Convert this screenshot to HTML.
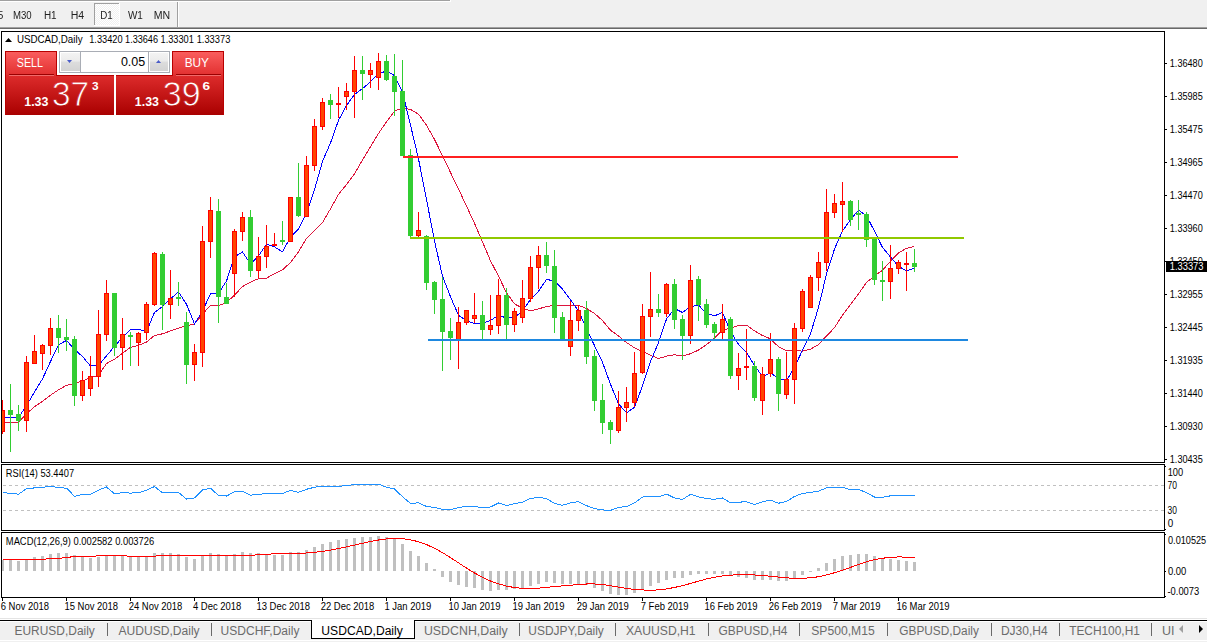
<!DOCTYPE html>
<html><head><meta charset="utf-8"><title>USDCAD,Daily</title>
<style>
html,body{margin:0;padding:0;background:#fff;}
body{width:1207px;height:642px;overflow:hidden;}
svg{display:block;}
</style></head><body>
<svg width="1207" height="642" viewBox="0 0 1207 642"><defs>
<clipPath id="cm"><rect x="2" y="32" width="1162" height="430"/></clipPath>
<clipPath id="cr"><rect x="2" y="465" width="1162" height="65"/></clipPath>
<clipPath id="cd"><rect x="2" y="533" width="1162" height="64"/></clipPath>
<linearGradient id="gh" x1="0" y1="0" x2="0" y2="1"><stop offset="0" stop-color="#fb5f5f"/><stop offset="1" stop-color="#e23030"/></linearGradient>
<linearGradient id="gl" x1="0" y1="0" x2="0" y2="1"><stop offset="0" stop-color="#de2c2c"/><stop offset="1" stop-color="#a90000"/></linearGradient>
<linearGradient id="glu" gradientUnits="userSpaceOnUse" x1="0" y1="75" x2="0" y2="115"><stop offset="0" stop-color="#de2c2c"/><stop offset="1" stop-color="#a90000"/></linearGradient>
<linearGradient id="gb" x1="0" y1="0" x2="0" y2="1"><stop offset="0" stop-color="#f3f3f3"/><stop offset="0.45" stop-color="#ebebeb"/><stop offset="0.5" stop-color="#dddddd"/><stop offset="1" stop-color="#d3d3d3"/></linearGradient>
<pattern id="chk" width="2" height="2" patternUnits="userSpaceOnUse"><rect width="2" height="2" fill="#f0f0f0"/><rect width="1" height="1" fill="#fff"/><rect x="1" y="1" width="1" height="1" fill="#fff"/></pattern>
</defs>
<g shape-rendering="crispEdges"><rect x="0" y="0" width="1207" height="27" fill="#f0f0f0"/><rect x="0" y="0" width="450" height="1" fill="#a0a0a0"/><rect x="450" y="0" width="1" height="2" fill="#fff"/><rect x="0" y="1" width="450" height="1" fill="#fff"/><rect x="0" y="27" width="1207" height="1" fill="#a0a0a0"/><rect x="0" y="28" width="1207" height="1" fill="#696969"/><rect x="94" y="3" width="25" height="22" fill="url(#chk)"/><rect x="94" y="3" width="25" height="1" fill="#a0a0a0"/><rect x="94" y="3" width="1" height="22" fill="#a0a0a0"/><rect x="119" y="3" width="1" height="23" fill="#fff"/><rect x="94" y="25" width="26" height="1" fill="#fff"/><rect x="177" y="2" width="1" height="25" fill="#a0a0a0"/><rect x="178" y="2" width="1" height="25" fill="#fff"/></g>
<g font-family='"Liberation Sans", Arial, sans-serif' style="will-change:transform">
<text x="13.01" y="19" font-size="10.0" fill="#222" textLength="18.66" lengthAdjust="spacingAndGlyphs">M30</text>
<text x="43.89" y="19" font-size="10.0" fill="#222" textLength="12.7" lengthAdjust="spacingAndGlyphs">H1</text>
<text x="70.74" y="19" font-size="10.0" fill="#222" textLength="13.47" lengthAdjust="spacingAndGlyphs">H4</text>
<text x="100.2" y="19" font-size="10.0" fill="#222" textLength="12.48" lengthAdjust="spacingAndGlyphs">D1</text>
<text x="127.96" y="19" font-size="10.0" fill="#222" textLength="14.93" lengthAdjust="spacingAndGlyphs">W1</text>
<text x="153.73" y="19" font-size="10.0" fill="#222" textLength="16.43" lengthAdjust="spacingAndGlyphs">MN</text>
<text x="-2.24" y="19" font-size="10.0" fill="#222">5</text>
</g>
<polyline clip-path="url(#cm)" points="2.5,422.5 10.5,422.5 18.5,422.29 26.5,413.77 34.5,406.63 42.5,401.39 50.5,395.12 58.5,389.83 66.5,385.3 74.5,383.64 82.5,380.87 90.5,377.81 98.5,375.03 106.5,363.59 114.5,359.16 122.5,353.38 130.5,347.39 138.5,345.34 146.5,341.99 154.5,335.44 162.5,333.8 170.5,330.94 178.5,328.03 186.5,325.84 194.5,323.84 202.5,314.2 210.5,305.34 218.5,305.64 226.5,302.48 234.5,295.11 242.5,286.54 250.5,282.08 258.5,278.66 266.5,278.13 274.5,273.76 282.5,269.76 290.5,262.49 298.5,251.84 306.5,238.49 314.5,230.26 322.5,222.55 330.5,208.81 338.5,194.46 346.5,184.49 354.5,173.99 362.5,159.92 370.5,146.65 378.5,133.44 386.5,121.75 394.5,111.01 402.5,108.11 410.5,109.48 418.5,114.1 426.5,125.33 434.5,139.48 442.5,155.72 450.5,172.52 458.5,189 466.5,206.13 474.5,223.35 482.5,241.91 490.5,260.79 498.5,276.13 506.5,292.79 514.5,303.84 522.5,308.31 530.5,310.94 538.5,308.92 546.5,306.49 554.5,305.5 562.5,305.59 570.5,305.44 578.5,305.44 586.5,308.43 594.5,313.51 602.5,320.51 610.5,330.16 618.5,336.03 626.5,342.54 634.5,347.88 642.5,351.41 650.5,355.28 658.5,358.59 666.5,356.14 674.5,354.76 682.5,355.91 690.5,353.76 698.5,350.07 706.5,344.64 714.5,338.17 722.5,330.24 730.5,328.01 738.5,325.58 746.5,325.07 754.5,330.91 762.5,335.55 770.5,338.86 778.5,346.75 786.5,350.93 794.5,350.36 802.5,351.15 810.5,349.13 818.5,344.61 826.5,335.99 834.5,327.68 842.5,315.16 850.5,304.6 858.5,293.81 866.5,282.55 874.5,275.81 882.5,270.3 890.5,261.26 898.5,252.92 906.5,248.24 914.5,246.54" fill="none" stroke="#dc143c" stroke-width="1" shape-rendering="crispEdges"/>
<polyline clip-path="url(#cm)" points="2.5,417.5 10.5,417.5 18.5,417.5 26.5,405.7 34.5,391.9 42.5,378.86 50.5,361.46 58.5,344.86 66.5,340.42 74.5,349.44 82.5,356.48 90.5,366.08 98.5,365.28 106.5,355.92 114.5,346.36 122.5,337.16 130.5,329.38 138.5,329.22 146.5,331.42 154.5,312.42 162.5,306.64 170.5,298.8 178.5,291.94 186.5,304.2 194.5,324 202.5,311.2 210.5,293.62 218.5,293.22 226.5,280.96 234.5,256.74 242.5,251.92 250.5,264.08 258.5,255.88 266.5,244.24 274.5,246.84 282.5,251.84 290.5,237.08 298.5,229.12 306.5,213.02 314.5,189.42 322.5,161.42 330.5,142.92 338.5,120.3 346.5,105.52 354.5,94.36 362.5,88.72 370.5,81.84 378.5,73.38 386.5,71.18 394.5,75.5 402.5,92 410.5,125.04 418.5,158.86 426.5,199.44 434.5,241.12 442.5,276.24 450.5,296.82 458.5,315.24 466.5,320.6 474.5,323.56 482.5,323.18 490.5,320.52 498.5,315.14 506.5,318.16 514.5,317.36 522.5,310.96 530.5,299.3 538.5,291.26 546.5,279.48 554.5,280.9 562.5,289.18 570.5,299.84 578.5,310.86 586.5,328.98 594.5,345.6 602.5,362.32 610.5,384.34 618.5,403.8 626.5,412.86 634.5,407.2 642.5,385.8 650.5,361.6 658.5,342.66 666.5,319 674.5,308.46 682.5,312.46 690.5,306.6 698.5,305.12 706.5,313.4 714.5,315.86 722.5,312.46 730.5,331.7 738.5,344.28 746.5,352.4 754.5,365.46 762.5,376.46 770.5,373.06 778.5,378.28 786.5,380.86 794.5,366.92 802.5,350.28 810.5,333.86 818.5,307.4 826.5,274.02 834.5,248.96 842.5,230.94 850.5,219.6 858.5,210.16 866.5,215.84 874.5,231.22 882.5,247.44 890.5,256.92 898.5,266.38 906.5,270.86 914.5,268.34" fill="none" stroke="#0000ff" stroke-width="1" shape-rendering="crispEdges"/>
<g clip-path="url(#cm)" shape-rendering="crispEdges"><rect x="2" y="400" width="1" height="34" fill="#f00"/><rect x="0" y="410" width="5" height="22" fill="#f00"/><rect x="1" y="411" width="3" height="20" fill="#ff4500"/><rect x="10" y="384" width="1" height="68" fill="#32cd32"/><rect x="8" y="410" width="5" height="5" fill="#32cd32"/><rect x="18" y="405" width="1" height="26" fill="#32cd32"/><rect x="16" y="414" width="5" height="7" fill="#32cd32"/><rect x="26" y="356" width="1" height="76" fill="#f00"/><rect x="24" y="362" width="5" height="59" fill="#f00"/><rect x="25" y="363" width="3" height="57" fill="#ff4500"/><rect x="34" y="335" width="1" height="29" fill="#f00"/><rect x="32" y="351" width="5" height="13" fill="#f00"/><rect x="33" y="352" width="3" height="11" fill="#ff4500"/><rect x="42" y="344" width="1" height="26" fill="#f00"/><rect x="40" y="345" width="5" height="9" fill="#f00"/><rect x="41" y="346" width="3" height="7" fill="#ff4500"/><rect x="50" y="318" width="1" height="37" fill="#f00"/><rect x="48" y="328" width="5" height="18" fill="#f00"/><rect x="49" y="329" width="3" height="16" fill="#ff4500"/><rect x="58" y="315" width="1" height="38" fill="#32cd32"/><rect x="56" y="328" width="5" height="10" fill="#32cd32"/><rect x="66" y="319" width="1" height="32" fill="#32cd32"/><rect x="64" y="337" width="5" height="3" fill="#32cd32"/><rect x="74" y="336" width="1" height="70" fill="#32cd32"/><rect x="72" y="339" width="5" height="57" fill="#32cd32"/><rect x="82" y="371" width="1" height="30" fill="#f00"/><rect x="80" y="380" width="5" height="16" fill="#f00"/><rect x="81" y="381" width="3" height="14" fill="#ff4500"/><rect x="90" y="356" width="1" height="40" fill="#f00"/><rect x="88" y="376" width="5" height="13" fill="#f00"/><rect x="89" y="377" width="3" height="11" fill="#ff4500"/><rect x="98" y="310" width="1" height="77" fill="#f00"/><rect x="96" y="334" width="5" height="43" fill="#f00"/><rect x="97" y="335" width="3" height="41" fill="#ff4500"/><rect x="106" y="280" width="1" height="61" fill="#f00"/><rect x="104" y="293" width="5" height="42" fill="#f00"/><rect x="105" y="294" width="3" height="40" fill="#ff4500"/><rect x="114" y="293" width="1" height="63" fill="#32cd32"/><rect x="112" y="293" width="5" height="55" fill="#32cd32"/><rect x="122" y="318" width="1" height="52" fill="#f00"/><rect x="120" y="334" width="5" height="14" fill="#f00"/><rect x="121" y="335" width="3" height="12" fill="#ff4500"/><rect x="130" y="332" width="1" height="34" fill="#32cd32"/><rect x="128" y="335" width="5" height="2" fill="#32cd32"/><rect x="138" y="332" width="1" height="34" fill="#f00"/><rect x="136" y="333" width="5" height="10" fill="#f00"/><rect x="137" y="334" width="3" height="8" fill="#ff4500"/><rect x="146" y="302" width="1" height="38" fill="#f00"/><rect x="144" y="304" width="5" height="29" fill="#f00"/><rect x="145" y="305" width="3" height="27" fill="#ff4500"/><rect x="154" y="252" width="1" height="54" fill="#f00"/><rect x="152" y="253" width="5" height="52" fill="#f00"/><rect x="153" y="254" width="3" height="50" fill="#ff4500"/><rect x="162" y="252" width="1" height="78" fill="#32cd32"/><rect x="160" y="254" width="5" height="51" fill="#32cd32"/><rect x="170" y="270" width="1" height="49" fill="#f00"/><rect x="168" y="298" width="5" height="7" fill="#f00"/><rect x="169" y="299" width="3" height="5" fill="#ff4500"/><rect x="178" y="282" width="1" height="24" fill="#32cd32"/><rect x="176" y="297" width="5" height="2" fill="#32cd32"/><rect x="186" y="312" width="1" height="72" fill="#32cd32"/><rect x="184" y="322" width="5" height="43" fill="#32cd32"/><rect x="194" y="344" width="1" height="37" fill="#f00"/><rect x="192" y="352" width="5" height="13" fill="#f00"/><rect x="193" y="353" width="3" height="11" fill="#ff4500"/><rect x="202" y="226" width="1" height="141" fill="#f00"/><rect x="200" y="241" width="5" height="112" fill="#f00"/><rect x="201" y="242" width="3" height="110" fill="#ff4500"/><rect x="210" y="197" width="1" height="61" fill="#f00"/><rect x="208" y="210" width="5" height="32" fill="#f00"/><rect x="209" y="211" width="3" height="30" fill="#ff4500"/><rect x="218" y="199" width="1" height="124" fill="#32cd32"/><rect x="216" y="211" width="5" height="86" fill="#32cd32"/><rect x="226" y="283" width="1" height="21" fill="#32cd32"/><rect x="224" y="297" width="5" height="7" fill="#32cd32"/><rect x="234" y="229" width="1" height="68" fill="#f00"/><rect x="232" y="231" width="5" height="43" fill="#f00"/><rect x="233" y="232" width="3" height="41" fill="#ff4500"/><rect x="242" y="212" width="1" height="29" fill="#f00"/><rect x="240" y="217" width="5" height="15" fill="#f00"/><rect x="241" y="218" width="3" height="13" fill="#ff4500"/><rect x="250" y="210" width="1" height="67" fill="#32cd32"/><rect x="248" y="217" width="5" height="54" fill="#32cd32"/><rect x="258" y="237" width="1" height="41" fill="#f00"/><rect x="256" y="256" width="5" height="15" fill="#f00"/><rect x="257" y="257" width="3" height="13" fill="#ff4500"/><rect x="266" y="225" width="1" height="43" fill="#f00"/><rect x="264" y="246" width="5" height="11" fill="#f00"/><rect x="265" y="247" width="3" height="9" fill="#ff4500"/><rect x="274" y="233" width="1" height="13" fill="#f00"/><rect x="272" y="244" width="5" height="2" fill="#f00"/><rect x="282" y="221" width="1" height="24" fill="#32cd32"/><rect x="280" y="240" width="5" height="2" fill="#32cd32"/><rect x="290" y="197" width="1" height="45" fill="#f00"/><rect x="288" y="197" width="5" height="45" fill="#f00"/><rect x="289" y="198" width="3" height="43" fill="#ff4500"/><rect x="298" y="163" width="1" height="54" fill="#32cd32"/><rect x="296" y="197" width="5" height="19" fill="#32cd32"/><rect x="306" y="156" width="1" height="61" fill="#f00"/><rect x="304" y="165" width="5" height="52" fill="#f00"/><rect x="305" y="166" width="3" height="50" fill="#ff4500"/><rect x="314" y="119" width="1" height="52" fill="#f00"/><rect x="312" y="126" width="5" height="40" fill="#f00"/><rect x="313" y="127" width="3" height="38" fill="#ff4500"/><rect x="322" y="98" width="1" height="32" fill="#f00"/><rect x="320" y="102" width="5" height="25" fill="#f00"/><rect x="321" y="103" width="3" height="23" fill="#ff4500"/><rect x="330" y="94" width="1" height="25" fill="#32cd32"/><rect x="328" y="100" width="5" height="5" fill="#32cd32"/><rect x="338" y="87" width="1" height="31" fill="#f00"/><rect x="336" y="103" width="5" height="2" fill="#f00"/><rect x="346" y="83" width="1" height="27" fill="#f00"/><rect x="344" y="91" width="5" height="6" fill="#f00"/><rect x="345" y="92" width="3" height="4" fill="#ff4500"/><rect x="354" y="56" width="1" height="62" fill="#f00"/><rect x="352" y="70" width="5" height="22" fill="#f00"/><rect x="353" y="71" width="3" height="20" fill="#ff4500"/><rect x="362" y="56" width="1" height="44" fill="#32cd32"/><rect x="360" y="70" width="5" height="4" fill="#32cd32"/><rect x="370" y="63" width="1" height="25" fill="#f00"/><rect x="368" y="70" width="5" height="5" fill="#f00"/><rect x="369" y="71" width="3" height="3" fill="#ff4500"/><rect x="378" y="53" width="1" height="37" fill="#f00"/><rect x="376" y="61" width="5" height="17" fill="#f00"/><rect x="377" y="62" width="3" height="15" fill="#ff4500"/><rect x="386" y="55" width="1" height="26" fill="#32cd32"/><rect x="384" y="61" width="5" height="19" fill="#32cd32"/><rect x="394" y="54" width="1" height="62" fill="#32cd32"/><rect x="392" y="76" width="5" height="16" fill="#32cd32"/><rect x="402" y="60" width="1" height="96" fill="#32cd32"/><rect x="400" y="91" width="5" height="65" fill="#32cd32"/><rect x="410" y="149" width="1" height="89" fill="#32cd32"/><rect x="408" y="155" width="5" height="81" fill="#32cd32"/><rect x="418" y="212" width="1" height="26" fill="#f00"/><rect x="416" y="230" width="5" height="6" fill="#f00"/><rect x="417" y="231" width="3" height="4" fill="#ff4500"/><rect x="426" y="235" width="1" height="55" fill="#32cd32"/><rect x="424" y="236" width="5" height="47" fill="#32cd32"/><rect x="434" y="281" width="1" height="33" fill="#32cd32"/><rect x="432" y="282" width="5" height="18" fill="#32cd32"/><rect x="442" y="277" width="1" height="94" fill="#32cd32"/><rect x="440" y="299" width="5" height="33" fill="#32cd32"/><rect x="450" y="318" width="1" height="42" fill="#32cd32"/><rect x="448" y="331" width="5" height="7" fill="#32cd32"/><rect x="458" y="307" width="1" height="62" fill="#f00"/><rect x="456" y="322" width="5" height="18" fill="#f00"/><rect x="457" y="323" width="3" height="16" fill="#ff4500"/><rect x="466" y="310" width="1" height="15" fill="#f00"/><rect x="464" y="310" width="5" height="13" fill="#f00"/><rect x="465" y="311" width="3" height="11" fill="#ff4500"/><rect x="474" y="293" width="1" height="30" fill="#f00"/><rect x="472" y="315" width="5" height="4" fill="#f00"/><rect x="473" y="316" width="3" height="2" fill="#ff4500"/><rect x="482" y="301" width="1" height="39" fill="#32cd32"/><rect x="480" y="315" width="5" height="15" fill="#32cd32"/><rect x="490" y="295" width="1" height="40" fill="#f00"/><rect x="488" y="325" width="5" height="5" fill="#f00"/><rect x="489" y="326" width="3" height="3" fill="#ff4500"/><rect x="498" y="279" width="1" height="55" fill="#f00"/><rect x="496" y="295" width="5" height="31" fill="#f00"/><rect x="497" y="296" width="3" height="29" fill="#ff4500"/><rect x="506" y="288" width="1" height="52" fill="#32cd32"/><rect x="504" y="295" width="5" height="30" fill="#32cd32"/><rect x="514" y="308" width="1" height="24" fill="#f00"/><rect x="512" y="311" width="5" height="14" fill="#f00"/><rect x="513" y="312" width="3" height="12" fill="#ff4500"/><rect x="522" y="280" width="1" height="43" fill="#f00"/><rect x="520" y="298" width="5" height="20" fill="#f00"/><rect x="521" y="299" width="3" height="18" fill="#ff4500"/><rect x="530" y="256" width="1" height="46" fill="#f00"/><rect x="528" y="267" width="5" height="32" fill="#f00"/><rect x="529" y="268" width="3" height="30" fill="#ff4500"/><rect x="538" y="246" width="1" height="43" fill="#f00"/><rect x="536" y="255" width="5" height="13" fill="#f00"/><rect x="537" y="256" width="3" height="11" fill="#ff4500"/><rect x="546" y="242" width="1" height="31" fill="#32cd32"/><rect x="544" y="255" width="5" height="11" fill="#32cd32"/><rect x="554" y="250" width="1" height="83" fill="#32cd32"/><rect x="552" y="266" width="5" height="52" fill="#32cd32"/><rect x="562" y="312" width="1" height="28" fill="#32cd32"/><rect x="560" y="317" width="5" height="23" fill="#32cd32"/><rect x="570" y="301" width="1" height="55" fill="#f00"/><rect x="568" y="320" width="5" height="27" fill="#f00"/><rect x="569" y="321" width="3" height="25" fill="#ff4500"/><rect x="578" y="305" width="1" height="26" fill="#f00"/><rect x="576" y="310" width="5" height="11" fill="#f00"/><rect x="577" y="311" width="3" height="9" fill="#ff4500"/><rect x="586" y="301" width="1" height="63" fill="#32cd32"/><rect x="584" y="310" width="5" height="47" fill="#32cd32"/><rect x="594" y="350" width="1" height="61" fill="#32cd32"/><rect x="592" y="356" width="5" height="45" fill="#32cd32"/><rect x="602" y="384" width="1" height="50" fill="#32cd32"/><rect x="600" y="400" width="5" height="23" fill="#32cd32"/><rect x="610" y="420" width="1" height="24" fill="#32cd32"/><rect x="608" y="422" width="5" height="8" fill="#32cd32"/><rect x="618" y="391" width="1" height="42" fill="#f00"/><rect x="616" y="407" width="5" height="24" fill="#f00"/><rect x="617" y="408" width="3" height="22" fill="#ff4500"/><rect x="626" y="387" width="1" height="35" fill="#f00"/><rect x="624" y="402" width="5" height="6" fill="#f00"/><rect x="625" y="403" width="3" height="4" fill="#ff4500"/><rect x="634" y="352" width="1" height="55" fill="#f00"/><rect x="632" y="373" width="5" height="30" fill="#f00"/><rect x="633" y="374" width="3" height="28" fill="#ff4500"/><rect x="642" y="304" width="1" height="70" fill="#f00"/><rect x="640" y="316" width="5" height="57" fill="#f00"/><rect x="641" y="317" width="3" height="55" fill="#ff4500"/><rect x="650" y="272" width="1" height="65" fill="#f00"/><rect x="648" y="309" width="5" height="8" fill="#f00"/><rect x="649" y="310" width="3" height="6" fill="#ff4500"/><rect x="658" y="294" width="1" height="23" fill="#32cd32"/><rect x="656" y="309" width="5" height="4" fill="#32cd32"/><rect x="666" y="283" width="1" height="34" fill="#f00"/><rect x="664" y="284" width="5" height="30" fill="#f00"/><rect x="665" y="285" width="3" height="28" fill="#ff4500"/><rect x="674" y="279" width="1" height="50" fill="#32cd32"/><rect x="672" y="284" width="5" height="36" fill="#32cd32"/><rect x="682" y="315" width="1" height="45" fill="#32cd32"/><rect x="680" y="319" width="5" height="17" fill="#32cd32"/><rect x="690" y="265" width="1" height="79" fill="#f00"/><rect x="688" y="280" width="5" height="56" fill="#f00"/><rect x="689" y="281" width="3" height="54" fill="#ff4500"/><rect x="698" y="276" width="1" height="45" fill="#32cd32"/><rect x="696" y="279" width="5" height="26" fill="#32cd32"/><rect x="706" y="299" width="1" height="29" fill="#32cd32"/><rect x="704" y="304" width="5" height="21" fill="#32cd32"/><rect x="714" y="322" width="1" height="17" fill="#32cd32"/><rect x="712" y="324" width="5" height="9" fill="#32cd32"/><rect x="722" y="304" width="1" height="35" fill="#f00"/><rect x="720" y="319" width="5" height="14" fill="#f00"/><rect x="721" y="320" width="3" height="12" fill="#ff4500"/><rect x="730" y="317" width="1" height="62" fill="#32cd32"/><rect x="728" y="319" width="5" height="57" fill="#32cd32"/><rect x="738" y="353" width="1" height="37" fill="#f00"/><rect x="736" y="368" width="5" height="8" fill="#f00"/><rect x="737" y="369" width="3" height="6" fill="#ff4500"/><rect x="746" y="329" width="1" height="51" fill="#f00"/><rect x="744" y="366" width="5" height="2" fill="#f00"/><rect x="754" y="361" width="1" height="40" fill="#32cd32"/><rect x="752" y="366" width="5" height="32" fill="#32cd32"/><rect x="762" y="367" width="1" height="48" fill="#f00"/><rect x="760" y="374" width="5" height="27" fill="#f00"/><rect x="761" y="375" width="3" height="25" fill="#ff4500"/><rect x="770" y="333" width="1" height="44" fill="#f00"/><rect x="768" y="359" width="5" height="15" fill="#f00"/><rect x="769" y="360" width="3" height="13" fill="#ff4500"/><rect x="778" y="357" width="1" height="54" fill="#32cd32"/><rect x="776" y="359" width="5" height="35" fill="#32cd32"/><rect x="786" y="352" width="1" height="47" fill="#f00"/><rect x="784" y="379" width="5" height="16" fill="#f00"/><rect x="785" y="380" width="3" height="14" fill="#ff4500"/><rect x="794" y="323" width="1" height="81" fill="#f00"/><rect x="792" y="328" width="5" height="52" fill="#f00"/><rect x="793" y="329" width="3" height="50" fill="#ff4500"/><rect x="802" y="289" width="1" height="43" fill="#f00"/><rect x="800" y="291" width="5" height="38" fill="#f00"/><rect x="801" y="292" width="3" height="36" fill="#ff4500"/><rect x="810" y="275" width="1" height="33" fill="#f00"/><rect x="808" y="277" width="5" height="31" fill="#f00"/><rect x="809" y="278" width="3" height="29" fill="#ff4500"/><rect x="818" y="252" width="1" height="39" fill="#f00"/><rect x="816" y="262" width="5" height="16" fill="#f00"/><rect x="817" y="263" width="3" height="14" fill="#ff4500"/><rect x="826" y="189" width="1" height="82" fill="#f00"/><rect x="824" y="212" width="5" height="51" fill="#f00"/><rect x="825" y="213" width="3" height="49" fill="#ff4500"/><rect x="834" y="194" width="1" height="24" fill="#f00"/><rect x="832" y="203" width="5" height="10" fill="#f00"/><rect x="833" y="204" width="3" height="8" fill="#ff4500"/><rect x="842" y="182" width="1" height="50" fill="#f00"/><rect x="840" y="201" width="5" height="4" fill="#f00"/><rect x="841" y="202" width="3" height="2" fill="#ff4500"/><rect x="850" y="200" width="1" height="26" fill="#32cd32"/><rect x="848" y="201" width="5" height="19" fill="#32cd32"/><rect x="858" y="200" width="1" height="30" fill="#32cd32"/><rect x="856" y="213" width="5" height="2" fill="#32cd32"/><rect x="866" y="212" width="1" height="35" fill="#32cd32"/><rect x="864" y="214" width="5" height="26" fill="#32cd32"/><rect x="874" y="238" width="1" height="47" fill="#32cd32"/><rect x="872" y="239" width="5" height="41" fill="#32cd32"/><rect x="882" y="261" width="1" height="40" fill="#32cd32"/><rect x="880" y="280" width="5" height="2" fill="#32cd32"/><rect x="890" y="245" width="1" height="54" fill="#f00"/><rect x="888" y="268" width="5" height="14" fill="#f00"/><rect x="889" y="269" width="3" height="12" fill="#ff4500"/><rect x="898" y="260" width="1" height="14" fill="#f00"/><rect x="896" y="262" width="5" height="7" fill="#f00"/><rect x="897" y="263" width="3" height="5" fill="#ff4500"/><rect x="906" y="252" width="1" height="39" fill="#f00"/><rect x="904" y="263" width="5" height="2" fill="#f00"/><rect x="914" y="249" width="1" height="23" fill="#32cd32"/><rect x="912" y="263" width="5" height="4" fill="#32cd32"/></g>
<g shape-rendering="crispEdges"><rect x="403" y="156" width="555" height="2" fill="#ff2020"/><rect x="410" y="237" width="554" height="2" fill="#90c800"/><rect x="428" y="339" width="540" height="2" fill="#1e88e0"/></g>
<g fill="none" stroke="#000" stroke-width="1" shape-rendering="crispEdges"><rect x="1.5" y="31.5" width="1163" height="431"/><rect x="1.5" y="464.5" width="1163" height="66"/><rect x="1.5" y="532.5" width="1163" height="65"/></g>
<g stroke="#c0c0c0" stroke-width="1" stroke-dasharray="3,3" shape-rendering="crispEdges"><line x1="3" y1="485.5" x2="1164" y2="485.5"/><line x1="3" y1="510.5" x2="1164" y2="510.5"/></g>
<polyline clip-path="url(#cr)" points="2.5,492.66 10.5,493.34 18.5,494.17 26.5,488.74 34.5,487.9 42.5,487.44 50.5,486.16 58.5,487.8 66.5,488.08 74.5,496.24 82.5,494.57 90.5,494.15 98.5,490.13 106.5,486.99 114.5,493.85 122.5,492.7 130.5,493.06 138.5,492.71 146.5,490.16 154.5,486.55 162.5,492.77 170.5,492.22 178.5,492.33 186.5,499.13 194.5,497.9 202.5,489.93 210.5,488.27 218.5,495.54 226.5,496.05 234.5,491.79 242.5,491.06 250.5,495.18 258.5,494.29 266.5,493.67 274.5,493.56 282.5,493.43 290.5,490.52 298.5,492.36 306.5,489.28 314.5,487.24 322.5,486.09 330.5,486.36 338.5,486.28 346.5,485.63 354.5,484.5 362.5,485 370.5,484.79 378.5,484.22 386.5,487.18 394.5,488.87 402.5,496.76 410.5,503.41 418.5,502.86 426.5,506.45 434.5,507.47 442.5,509.27 450.5,509.62 458.5,507.64 466.5,506.2 474.5,506.56 482.5,507.66 490.5,506.95 498.5,503.01 506.5,505.52 514.5,503.73 522.5,502.12 530.5,498.49 538.5,497.23 546.5,498.49 554.5,503.52 562.5,505.26 570.5,502.86 578.5,501.66 586.5,505.62 594.5,508.64 602.5,509.95 610.5,510.36 618.5,507.31 626.5,506.63 634.5,502.94 642.5,497.06 650.5,496.42 658.5,496.79 666.5,494.07 674.5,497.93 682.5,499.47 690.5,494.31 698.5,496.79 706.5,498.64 714.5,499.31 722.5,497.96 730.5,502.95 738.5,502.1 746.5,501.85 754.5,504.53 762.5,501.79 770.5,500.14 778.5,503.23 786.5,501.48 794.5,496.47 802.5,493.42 810.5,492.36 818.5,491.23 826.5,487.88 834.5,487.34 842.5,487.21 850.5,489.74 858.5,489.33 866.5,492.63 874.5,497.06 882.5,497.29 890.5,495.83 898.5,495.25 906.5,495.33 914.5,495.94" fill="none" stroke="#1e90ff" stroke-width="1" shape-rendering="crispEdges"/>
<g clip-path="url(#cd)" fill="#c0c0c0" shape-rendering="crispEdges"><rect x="1" y="560" width="3" height="11"/><rect x="9" y="560" width="3" height="11"/><rect x="17" y="561" width="3" height="10"/><rect x="25" y="560" width="3" height="11"/><rect x="33" y="557" width="3" height="14"/><rect x="41" y="556" width="3" height="15"/><rect x="49" y="554" width="3" height="17"/><rect x="57" y="553" width="3" height="18"/><rect x="65" y="553" width="3" height="18"/><rect x="73" y="555" width="3" height="16"/><rect x="81" y="557" width="3" height="14"/><rect x="89" y="558" width="3" height="13"/><rect x="97" y="557" width="3" height="14"/><rect x="105" y="556" width="3" height="15"/><rect x="113" y="556" width="3" height="15"/><rect x="121" y="556" width="3" height="15"/><rect x="129" y="557" width="3" height="14"/><rect x="137" y="557" width="3" height="14"/><rect x="145" y="557" width="3" height="14"/><rect x="153" y="553" width="3" height="18"/><rect x="161" y="553" width="3" height="18"/><rect x="169" y="553" width="3" height="18"/><rect x="177" y="554" width="3" height="17"/><rect x="185" y="557" width="3" height="14"/><rect x="193" y="559" width="3" height="12"/><rect x="201" y="556" width="3" height="15"/><rect x="209" y="553" width="3" height="18"/><rect x="217" y="554" width="3" height="17"/><rect x="225" y="556" width="3" height="15"/><rect x="233" y="554" width="3" height="17"/><rect x="241" y="552" width="3" height="19"/><rect x="249" y="553" width="3" height="18"/><rect x="257" y="553" width="3" height="18"/><rect x="265" y="555" width="3" height="16"/><rect x="273" y="555" width="3" height="16"/><rect x="281" y="555" width="3" height="16"/><rect x="289" y="552" width="3" height="19"/><rect x="297" y="552" width="3" height="19"/><rect x="305" y="550" width="3" height="21"/><rect x="313" y="547" width="3" height="24"/><rect x="321" y="544" width="3" height="27"/><rect x="329" y="542" width="3" height="29"/><rect x="337" y="540" width="3" height="31"/><rect x="345" y="539" width="3" height="32"/><rect x="353" y="538" width="3" height="33"/><rect x="361" y="537" width="3" height="34"/><rect x="369" y="537" width="3" height="34"/><rect x="377" y="536" width="3" height="35"/><rect x="385" y="537" width="3" height="34"/><rect x="393" y="538" width="3" height="33"/><rect x="401" y="544" width="3" height="27"/><rect x="409" y="551" width="3" height="20"/><rect x="417" y="556" width="3" height="15"/><rect x="425" y="563" width="3" height="8"/><rect x="433" y="569" width="3" height="2"/><rect x="441" y="571" width="3" height="6"/><rect x="449" y="571" width="3" height="11"/><rect x="457" y="571" width="3" height="14"/><rect x="465" y="571" width="3" height="16"/><rect x="473" y="571" width="3" height="17"/><rect x="481" y="571" width="3" height="19"/><rect x="489" y="571" width="3" height="20"/><rect x="497" y="571" width="3" height="19"/><rect x="505" y="571" width="3" height="19"/><rect x="513" y="571" width="3" height="18"/><rect x="521" y="571" width="3" height="17"/><rect x="529" y="571" width="3" height="15"/><rect x="537" y="571" width="3" height="13"/><rect x="545" y="571" width="3" height="11"/><rect x="553" y="571" width="3" height="12"/><rect x="561" y="571" width="3" height="13"/><rect x="569" y="571" width="3" height="13"/><rect x="577" y="571" width="3" height="13"/><rect x="585" y="571" width="3" height="14"/><rect x="593" y="571" width="3" height="17"/><rect x="601" y="571" width="3" height="20"/><rect x="609" y="571" width="3" height="23"/><rect x="617" y="571" width="3" height="24"/><rect x="625" y="571" width="3" height="24"/><rect x="633" y="571" width="3" height="22"/><rect x="641" y="571" width="3" height="19"/><rect x="649" y="571" width="3" height="15"/><rect x="657" y="571" width="3" height="12"/><rect x="665" y="571" width="3" height="9"/><rect x="673" y="571" width="3" height="7"/><rect x="681" y="571" width="3" height="7"/><rect x="689" y="571" width="3" height="4"/><rect x="697" y="571" width="3" height="3"/><rect x="705" y="571" width="3" height="3"/><rect x="713" y="571" width="3" height="3"/><rect x="721" y="571" width="3" height="3"/><rect x="729" y="571" width="3" height="4"/><rect x="737" y="571" width="3" height="6"/><rect x="745" y="571" width="3" height="7"/><rect x="753" y="571" width="3" height="9"/><rect x="761" y="571" width="3" height="9"/><rect x="769" y="571" width="3" height="9"/><rect x="777" y="571" width="3" height="10"/><rect x="785" y="571" width="3" height="10"/><rect x="793" y="571" width="3" height="7"/><rect x="801" y="571" width="3" height="4"/><rect x="809" y="571" width="3" height="1"/><rect x="817" y="568" width="3" height="3"/><rect x="825" y="563" width="3" height="8"/><rect x="833" y="559" width="3" height="12"/><rect x="841" y="556" width="3" height="15"/><rect x="849" y="555" width="3" height="16"/><rect x="857" y="554" width="3" height="17"/><rect x="865" y="554" width="3" height="17"/><rect x="873" y="556" width="3" height="15"/><rect x="881" y="558" width="3" height="13"/><rect x="889" y="559" width="3" height="12"/><rect x="897" y="560" width="3" height="11"/><rect x="905" y="561" width="3" height="10"/><rect x="913" y="562" width="3" height="9"/></g>
<polyline clip-path="url(#cd)" points="2.5,559.5 10.5,559.5 18.5,559.5 26.5,559.5 34.5,559.5 42.5,559.5 50.5,558.5 58.5,558.5 66.5,557.21 74.5,556.8 82.5,556.47 90.5,556.15 98.5,555.94 106.5,555.67 114.5,555.65 122.5,555.84 130.5,556.15 138.5,556.54 146.5,556.56 154.5,556.13 162.5,555.62 170.5,555.22 178.5,555.11 186.5,555.3 194.5,555.71 202.5,555.74 210.5,555.34 218.5,555.18 226.5,555.47 234.5,555.52 242.5,555.35 250.5,555.26 258.5,554.83 266.5,554.18 274.5,553.86 282.5,553.97 290.5,553.76 298.5,553.38 306.5,552.96 314.5,552.39 322.5,551.35 330.5,550.03 338.5,548.54 346.5,546.89 354.5,545.05 362.5,543.3 370.5,541.55 378.5,540 386.5,538.93 394.5,538.4 402.5,538.61 410.5,539.78 418.5,541.72 426.5,544.6 434.5,548.26 442.5,552.64 450.5,557.62 458.5,562.85 466.5,568.08 474.5,572.99 482.5,577.26 490.5,581 498.5,583.87 506.5,586.09 514.5,587.56 522.5,588.33 530.5,588.47 538.5,588.11 546.5,587.4 554.5,586.6 562.5,585.86 570.5,585.24 578.5,584.51 586.5,584.01 594.5,583.97 602.5,584.54 610.5,585.68 618.5,587.09 626.5,588.41 634.5,589.41 642.5,589.97 650.5,590.18 658.5,589.92 666.5,588.93 674.5,587.45 682.5,585.66 690.5,583.46 698.5,581.14 706.5,578.97 714.5,577.26 722.5,575.9 730.5,575.08 738.5,574.8 746.5,574.76 754.5,574.98 762.5,575.56 770.5,576.23 778.5,577.02 786.5,577.8 794.5,578.37 802.5,578.33 810.5,577.77 818.5,576.75 826.5,574.99 834.5,572.74 842.5,570.19 850.5,567.37 858.5,564.4 866.5,561.73 874.5,559.69 882.5,558.25 890.5,557.29 898.5,556.93 906.5,557.1 914.5,557.72" fill="none" stroke="#ff0000" stroke-width="1" shape-rendering="crispEdges"/>
<g fill="#000" shape-rendering="crispEdges"><rect x="1165" y="63" width="2" height="1"/><rect x="1165" y="96" width="2" height="1"/><rect x="1165" y="129" width="2" height="1"/><rect x="1165" y="162" width="2" height="1"/><rect x="1165" y="195" width="2" height="1"/><rect x="1165" y="228" width="2" height="1"/><rect x="1165" y="261" width="2" height="1"/><rect x="1165" y="294" width="2" height="1"/><rect x="1165" y="327" width="2" height="1"/><rect x="1165" y="360" width="2" height="1"/><rect x="1165" y="393" width="2" height="1"/><rect x="1165" y="426" width="2" height="1"/><rect x="1165" y="459" width="2" height="1"/><rect x="1165" y="466" width="1" height="1"/><rect x="1165" y="529" width="1" height="1"/><rect x="1165" y="534" width="1" height="1"/><rect x="1165" y="571" width="1" height="1"/><rect x="1165" y="596" width="1" height="1"/><rect x="2" y="598" width="1" height="3"/><rect x="66" y="598" width="1" height="3"/><rect x="130" y="598" width="1" height="3"/><rect x="194" y="598" width="1" height="3"/><rect x="258" y="598" width="1" height="3"/><rect x="322" y="598" width="1" height="3"/><rect x="386" y="598" width="1" height="3"/><rect x="450" y="598" width="1" height="3"/><rect x="514" y="598" width="1" height="3"/><rect x="578" y="598" width="1" height="3"/><rect x="642" y="598" width="1" height="3"/><rect x="706" y="598" width="1" height="3"/><rect x="770" y="598" width="1" height="3"/><rect x="834" y="598" width="1" height="3"/><rect x="898" y="598" width="1" height="3"/></g>
<g shape-rendering="crispEdges"><rect x="1164" y="261" width="43" height="1" fill="#000"/><rect x="1166" y="261" width="41" height="11" fill="#000"/></g>
<g shape-rendering="crispEdges">
<rect x="5" y="75" width="109" height="40" fill="url(#gl)"/>
<rect x="5" y="51" width="52" height="24" fill="url(#gh)"/>
<rect x="5" y="51" width="52" height="1" fill="#b80000"/><rect x="5" y="51" width="1" height="64" fill="#b80000"/><rect x="56" y="51" width="1" height="25" fill="#b80000"/><rect x="56" y="75" width="58" height="1" fill="#b80000"/>
<rect x="9" y="74" width="45" height="1" fill="#9a0000"/><rect x="9" y="75" width="45" height="1" fill="#f06a6a"/>
<rect x="116" y="75" width="108" height="40" fill="url(#gl)"/>
<rect x="172" y="51" width="52" height="24" fill="url(#gh)"/>
<rect x="172" y="51" width="52" height="1" fill="#b80000"/><rect x="223" y="51" width="1" height="64" fill="#b80000"/><rect x="172" y="51" width="1" height="25" fill="#b80000"/><rect x="116" y="75" width="57" height="1" fill="#b80000"/>
<rect x="176" y="74" width="45" height="1" fill="#9a0000"/><rect x="176" y="75" width="45" height="1" fill="#f06a6a"/>
<rect x="59" y="51" width="111" height="22" fill="#a9adb5"/><rect x="60" y="52" width="109" height="20" fill="#fff"/>
<rect x="61" y="53" width="19" height="18" fill="url(#gb)"/><rect x="80" y="52" width="1" height="20" fill="#a9adb5"/>
<rect x="150" y="53" width="18" height="18" fill="url(#gb)"/><rect x="148" y="52" width="1" height="20" fill="#a9adb5"/>
</g>
<polygon points="67,60 72,60 69.5,63" fill="#4a5cc8"/><polygon points="156,63 161,63 158.5,60" fill="#4a5cc8"/>
<g font-family='"Liberation Sans", Arial, sans-serif'>
<text x="16.81" y="67" font-size="12.5" fill="#fff" textLength="26.24" lengthAdjust="spacingAndGlyphs">SELL</text>
<text x="184.63" y="67" font-size="12.5" fill="#fff" textLength="24.33" lengthAdjust="spacingAndGlyphs">BUY</text>
<text x="120.91" y="66" font-size="12" fill="#000" textLength="24.31" lengthAdjust="spacingAndGlyphs">0.05</text>
<text x="24.22" y="106" font-size="12.5" font-weight="bold" fill="#fff" textLength="24.23" lengthAdjust="spacingAndGlyphs">1.33</text>
<text x="52.03" y="105.8" font-size="35" fill="#fff" textLength="37.15" lengthAdjust="spacingAndGlyphs" stroke="url(#glu)" stroke-width="0.8">37</text>
<text x="92.03" y="90" font-size="11" font-weight="bold" fill="#fff" textLength="6.6" lengthAdjust="spacingAndGlyphs">3</text>
<text x="134.82" y="106" font-size="12.5" font-weight="bold" fill="#fff" textLength="24.13" lengthAdjust="spacingAndGlyphs">1.33</text>
<text x="162.81" y="105.8" font-size="35" fill="#fff" textLength="37.8" lengthAdjust="spacingAndGlyphs" stroke="url(#glu)" stroke-width="0.8">39</text>
<text x="202.5" y="90" font-size="11" font-weight="bold" fill="#fff" textLength="7.59" lengthAdjust="spacingAndGlyphs">6</text>
<polygon points="5,42 12,42 8.5,38" fill="#000"/>
<text x="16.95" y="43" font-size="10.0" fill="#000" textLength="65.57" lengthAdjust="spacingAndGlyphs">USDCAD,Daily</text>
<text x="89.2" y="43" font-size="10.0" fill="#000" textLength="33.36" lengthAdjust="spacingAndGlyphs">1.33420</text>
<text x="125.11" y="43" font-size="10.0" fill="#000" textLength="32.89" lengthAdjust="spacingAndGlyphs">1.33646</text>
<text x="160.5" y="43" font-size="10.0" fill="#000" textLength="33.35" lengthAdjust="spacingAndGlyphs">1.33301</text>
<text x="196.69" y="43" font-size="10.0" fill="#000" textLength="33.62" lengthAdjust="spacingAndGlyphs">1.33373</text>
<text x="1169.81" y="67" font-size="10.0" fill="#000" textLength="32.95" lengthAdjust="spacingAndGlyphs">1.36480</text>
<text x="1169.81" y="100" font-size="10.0" fill="#000" textLength="32.98" lengthAdjust="spacingAndGlyphs">1.35985</text>
<text x="1169.81" y="133" font-size="10.0" fill="#000" textLength="32.98" lengthAdjust="spacingAndGlyphs">1.35475</text>
<text x="1169.81" y="166" font-size="10.0" fill="#000" textLength="32.98" lengthAdjust="spacingAndGlyphs">1.34965</text>
<text x="1169.81" y="199" font-size="10.0" fill="#000" textLength="32.95" lengthAdjust="spacingAndGlyphs">1.34470</text>
<text x="1169.81" y="232" font-size="10.0" fill="#000" textLength="32.95" lengthAdjust="spacingAndGlyphs">1.33960</text>
<text x="1169.81" y="265" font-size="10.0" fill="#000" textLength="32.95" lengthAdjust="spacingAndGlyphs">1.33450</text>
<text x="1169.81" y="298" font-size="10.0" fill="#000" textLength="32.98" lengthAdjust="spacingAndGlyphs">1.32955</text>
<text x="1169.81" y="331" font-size="10.0" fill="#000" textLength="32.98" lengthAdjust="spacingAndGlyphs">1.32445</text>
<text x="1169.81" y="364" font-size="10.0" fill="#000" textLength="32.98" lengthAdjust="spacingAndGlyphs">1.31935</text>
<text x="1169.81" y="397" font-size="10.0" fill="#000" textLength="32.95" lengthAdjust="spacingAndGlyphs">1.31440</text>
<text x="1169.81" y="430" font-size="10.0" fill="#000" textLength="32.95" lengthAdjust="spacingAndGlyphs">1.30930</text>
<text x="1169.81" y="463" font-size="10.0" fill="#000" textLength="32.98" lengthAdjust="spacingAndGlyphs">1.30435</text>
<text x="1169.69" y="270" font-size="10.0" fill="#fff" textLength="33.82" lengthAdjust="spacingAndGlyphs">1.33373</text>
<text x="1167.69" y="476" font-size="10.0" fill="#000" textLength="15.47" lengthAdjust="spacingAndGlyphs">100</text>
<text x="1167.46" y="489" font-size="10.0" fill="#000" textLength="9.47" lengthAdjust="spacingAndGlyphs">70</text>
<text x="1167.58" y="514" font-size="10.0" fill="#000" textLength="9.35" lengthAdjust="spacingAndGlyphs">30</text>
<text x="1167.72" y="527" font-size="10.0" fill="#000" textLength="5.47" lengthAdjust="spacingAndGlyphs">0</text>
<text x="1168.04" y="544" font-size="10.0" fill="#000" textLength="38.14" lengthAdjust="spacingAndGlyphs">0.010525</text>
<text x="1168.03" y="575" font-size="10.0" fill="#000" textLength="18.34" lengthAdjust="spacingAndGlyphs">0.00</text>
<text x="1167.48" y="594.5" font-size="10.0" fill="#000" textLength="31.73" lengthAdjust="spacingAndGlyphs">-0.0073</text>
<text x="0.72" y="610" font-size="10.0" fill="#000" textLength="48.36" lengthAdjust="spacingAndGlyphs">6 Nov 2018</text>
<text x="64.48" y="610" font-size="10.0" fill="#000" textLength="53.62" lengthAdjust="spacingAndGlyphs">15 Nov 2018</text>
<text x="128.72" y="610" font-size="10.0" fill="#000" textLength="53.62" lengthAdjust="spacingAndGlyphs">24 Nov 2018</text>
<text x="192.98" y="610" font-size="10.0" fill="#000" textLength="48.36" lengthAdjust="spacingAndGlyphs">4 Dec 2018</text>
<text x="256.48" y="610" font-size="10.0" fill="#000" textLength="53.62" lengthAdjust="spacingAndGlyphs">13 Dec 2018</text>
<text x="320.72" y="610" font-size="10.0" fill="#000" textLength="53.62" lengthAdjust="spacingAndGlyphs">22 Dec 2018</text>
<text x="384.48" y="610" font-size="10.0" fill="#000" textLength="46.79" lengthAdjust="spacingAndGlyphs">1 Jan 2019</text>
<text x="448.48" y="610" font-size="10.0" fill="#000" textLength="52.05" lengthAdjust="spacingAndGlyphs">10 Jan 2019</text>
<text x="512.48" y="610" font-size="10.0" fill="#000" textLength="52.05" lengthAdjust="spacingAndGlyphs">19 Jan 2019</text>
<text x="576.72" y="610" font-size="10.0" fill="#000" textLength="52.05" lengthAdjust="spacingAndGlyphs">29 Jan 2019</text>
<text x="640.72" y="610" font-size="10.0" fill="#000" textLength="47.84" lengthAdjust="spacingAndGlyphs">7 Feb 2019</text>
<text x="704.48" y="610" font-size="10.0" fill="#000" textLength="53.1" lengthAdjust="spacingAndGlyphs">16 Feb 2019</text>
<text x="768.72" y="610" font-size="10.0" fill="#000" textLength="53.1" lengthAdjust="spacingAndGlyphs">26 Feb 2019</text>
<text x="832.72" y="610" font-size="10.0" fill="#000" textLength="47.83" lengthAdjust="spacingAndGlyphs">7 Mar 2019</text>
<text x="896.48" y="610" font-size="10.0" fill="#000" textLength="53.09" lengthAdjust="spacingAndGlyphs">16 Mar 2019</text>
<text x="5.84" y="477" font-size="10.0" fill="#000" textLength="68.23" lengthAdjust="spacingAndGlyphs">RSI(14) 53.4407</text>
<text x="5.83" y="545" font-size="10.0" fill="#000" textLength="148.38" lengthAdjust="spacingAndGlyphs">MACD(12,26,9) 0.002582 0.003726</text>
</g>
<g shape-rendering="crispEdges"><rect x="0" y="618" width="1207" height="1" fill="#e4e4e4"/><rect x="0" y="620" width="1207" height="1" fill="#000"/><rect x="0" y="622" width="1207" height="18" fill="#f0f0f0"/><rect x="0" y="641" width="1207" height="1" fill="#f0f0f0"/><rect x="311" y="619" width="104" height="20" fill="#fff"/><rect x="311" y="620" width="1" height="19" fill="#000"/><rect x="414" y="620" width="1" height="19" fill="#000"/><rect x="311" y="638" width="104" height="1" fill="#000"/>
<rect x="107" y="623" width="1" height="13" fill="#6a6a6a"/>
<rect x="211" y="623" width="1" height="13" fill="#6a6a6a"/>
<rect x="519" y="623" width="1" height="13" fill="#6a6a6a"/>
<rect x="615" y="623" width="1" height="13" fill="#6a6a6a"/>
<rect x="708" y="623" width="1" height="13" fill="#6a6a6a"/>
<rect x="799" y="623" width="1" height="13" fill="#6a6a6a"/>
<rect x="887" y="623" width="1" height="13" fill="#6a6a6a"/>
<rect x="991" y="623" width="1" height="13" fill="#6a6a6a"/>
<rect x="1059" y="623" width="1" height="13" fill="#6a6a6a"/>
<rect x="1151" y="623" width="1" height="13" fill="#6a6a6a"/>
</g>
<g font-family='"Liberation Sans", Arial, sans-serif'>
<text x="14.52" y="635" font-size="12.5" fill="#6b6b6b" textLength="80.3" lengthAdjust="spacingAndGlyphs">EURUSD,Daily</text>
<text x="118.48" y="635" font-size="12.5" fill="#6b6b6b" textLength="81.15" lengthAdjust="spacingAndGlyphs">AUDUSD,Daily</text>
<text x="220.59" y="635" font-size="12.5" fill="#6b6b6b" textLength="78.84" lengthAdjust="spacingAndGlyphs">USDCHF,Daily</text>
<text x="423.95" y="635" font-size="12.5" fill="#6b6b6b" textLength="83.78" lengthAdjust="spacingAndGlyphs">USDCNH,Daily</text>
<text x="528.3" y="635" font-size="12.5" fill="#6b6b6b" textLength="75.53" lengthAdjust="spacingAndGlyphs">USDJPY,Daily</text>
<text x="626.03" y="635" font-size="12.5" fill="#6b6b6b" textLength="69.57" lengthAdjust="spacingAndGlyphs">XAUUSD,H1</text>
<text x="718.5" y="635" font-size="12.5" fill="#6b6b6b" textLength="68.95" lengthAdjust="spacingAndGlyphs">GBPUSD,H4</text>
<text x="811.25" y="635" font-size="12.5" fill="#6b6b6b" textLength="63.46" lengthAdjust="spacingAndGlyphs">SP500,M15</text>
<text x="899.31" y="635" font-size="12.5" fill="#6b6b6b" textLength="79.52" lengthAdjust="spacingAndGlyphs">GBPUSD,Daily</text>
<text x="1000.91" y="635" font-size="12.5" fill="#6b6b6b" textLength="46.74" lengthAdjust="spacingAndGlyphs">DJ30,H4</text>
<text x="1069.13" y="635" font-size="12.5" fill="#6b6b6b" textLength="70.75" lengthAdjust="spacingAndGlyphs">TECH100,H1</text>
<text x="321.37" y="635" font-size="12.5" fill="#000" textLength="81.46" lengthAdjust="spacingAndGlyphs">USDCAD,Daily</text>
<text x="1162.04" y="635" font-size="12.5" fill="#6b6b6b">UI</text>
</g>
<rect x="1178" y="620" width="29" height="1" fill="#000"/>
<polygon points="1183,625 1183,633 1179,629" fill="#a0a0a0"/><polygon points="1199,625 1199,633 1203,629" fill="#000"/></svg>
</body></html>
